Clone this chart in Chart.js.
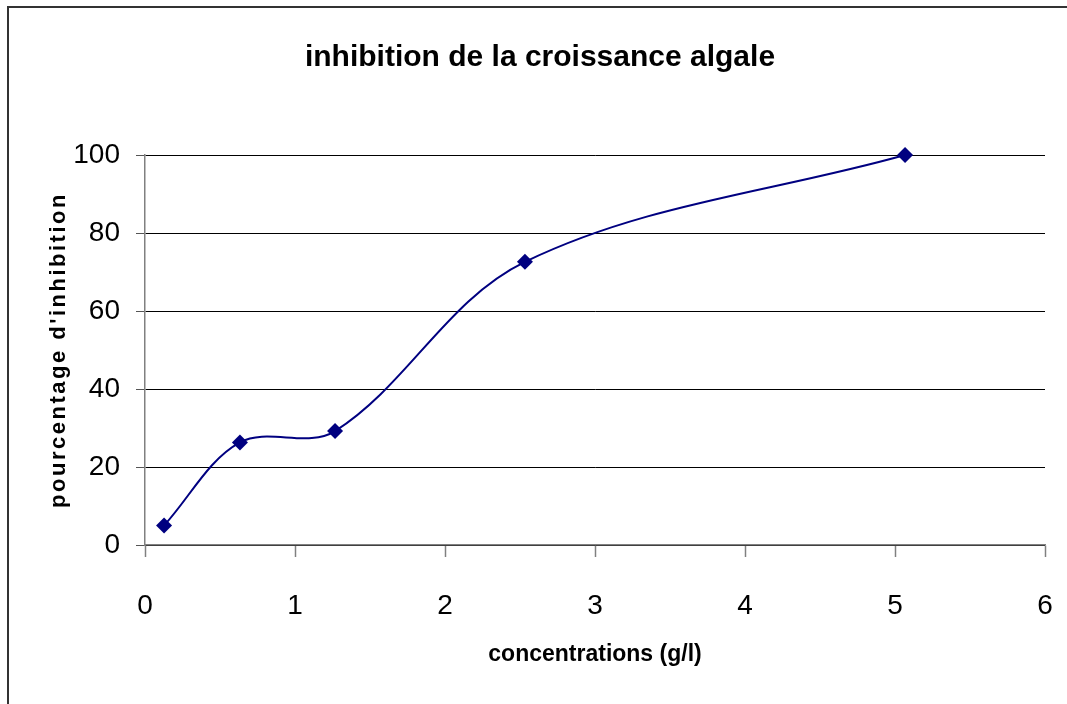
<!DOCTYPE html>
<html lang="fr">
<head>
    <meta charset="UTF-8">
    <title>inhibition de la croissance algale</title>
    <script src="https://cdn.jsdelivr.net/npm/chart.js"></script>
    <style>
        body { margin: 0; background: #fff; overflow: hidden; }
        .frame {
            position: absolute;
            left: 7px;
            top: 6px;
            width: 2000px;
            height: 2000px;
            border: 2px solid #333;
        }
        canvas { position: absolute; left: 0; top: 0; }
    </style>
</head>
<body>
    <div class="frame"></div>
    <canvas id="algaeChart" width="1067" height="704"></canvas>

    <script>
        // concentrations (g/l) and inhibition (%)
        const concentrations = [0.127, 0.633, 1.267, 2.533, 5.067];
        const inhibition = [5, 26.3, 29.2, 72.6, 100];
        const xTicks = [0, 1, 2, 3, 4, 5, 6];
        const yTicks = [0, 20, 40, 60, 80, 100];

        const arial = "'Liberation Sans', Arial, sans-serif";

        // title drawn at a fixed spot, like the original sheet
        const chartTitle = {
            id: 'chartTitle',
            afterDraw(chart) {
                const ctx = chart.ctx;
                ctx.save();
                ctx.font = 'bold 30px ' + arial;
                ctx.fillStyle = '#000';
                ctx.textAlign = 'center';
                ctx.textBaseline = 'middle';
                ctx.fillText('inhibition de la croissance algale', 540, 58);
                ctx.restore();
            }
        };

        // the y title is letter-spaced in the original
        function spaceTitle(scale) {
            if (scale._spaced) return;
            const orig = scale.drawTitle;
            scale.drawTitle = function () {
                this.ctx.save();
                this.ctx.letterSpacing = '2.5px';
                orig.call(this);
                this.ctx.restore();
            };
            scale._spaced = true;
        }

        const points = concentrations.map((c, i) => ({ x: c, y: inhibition[i] }));

        const ctx = document.getElementById('algaeChart').getContext('2d');
        new Chart(ctx, {
            type: 'line',
            data: {
                datasets: [{
                    label: 'inhibition',
                    data: points,
                    borderColor: '#000080',
                    backgroundColor: '#000080',
                    borderWidth: 2,
                    tension: 0.35,
                    pointStyle: 'rectRot',
                    pointRadius: 8,
                    pointBorderWidth: 0,
                    clip: false,
                    fill: false
                }]
            },
            options: {
                responsive: false,
                animation: false,
                layout: { padding: { top: 155, right: 22, left: 0, bottom: 0 } },
                plugins: {
                    legend: { display: false },
                    tooltip: { enabled: false }
                },
                scales: {
                    x: {
                        type: 'linear',
                        min: 0,
                        max: 6,
                        afterBuildTicks: s => { s.ticks = xTicks.map(v => ({ value: v })); },
                        afterFit: s => { s.height = 159; },
                        grid: {
                            drawOnChartArea: false,
                            tickLength: 12,
                            tickColor: '#808080',
                            tickWidth: 1.5
                        },
                        border: { color: '#808080', width: 1.5 },
                        ticks: {
                            color: '#000',
                            // small padding (it is also added at the right edge);
                            // the tall line height moves the labels down instead
                            padding: 4,
                            maxRotation: 0,
                            font: { family: arial, size: 28, lineHeight: 3.2 }
                        },
                        title: {
                            display: true,
                            text: 'concentrations (g/l)',
                            color: '#000',
                            padding: { top: 0, bottom: 36 },
                            font: { family: arial, size: 23, weight: 'bold' }
                        }
                    },
                    y: {
                        min: 0,
                        max: 100,
                        afterBuildTicks: s => { s.ticks = yTicks.map(v => ({ value: v })); },
                        afterFit: s => { s.width = 145; spaceTitle(s); },
                        grid: {
                            color: '#000',
                            lineWidth: 1,
                            tickLength: 9,
                            tickColor: '#555'
                        },
                        border: { color: '#808080', width: 1.5 },
                        ticks: {
                            color: '#000',
                            padding: 16,
                            font: { family: arial, size: 28 }
                        },
                        title: {
                            display: true,
                            text: "pourcentage d'inhibition",
                            color: '#000',
                            padding: { top: 46, bottom: 0 },
                            font: { family: arial, size: 22, weight: 'bold' }
                        }
                    }
                }
            },
            plugins: [chartTitle]
        });
    </script>
</body>
</html>
